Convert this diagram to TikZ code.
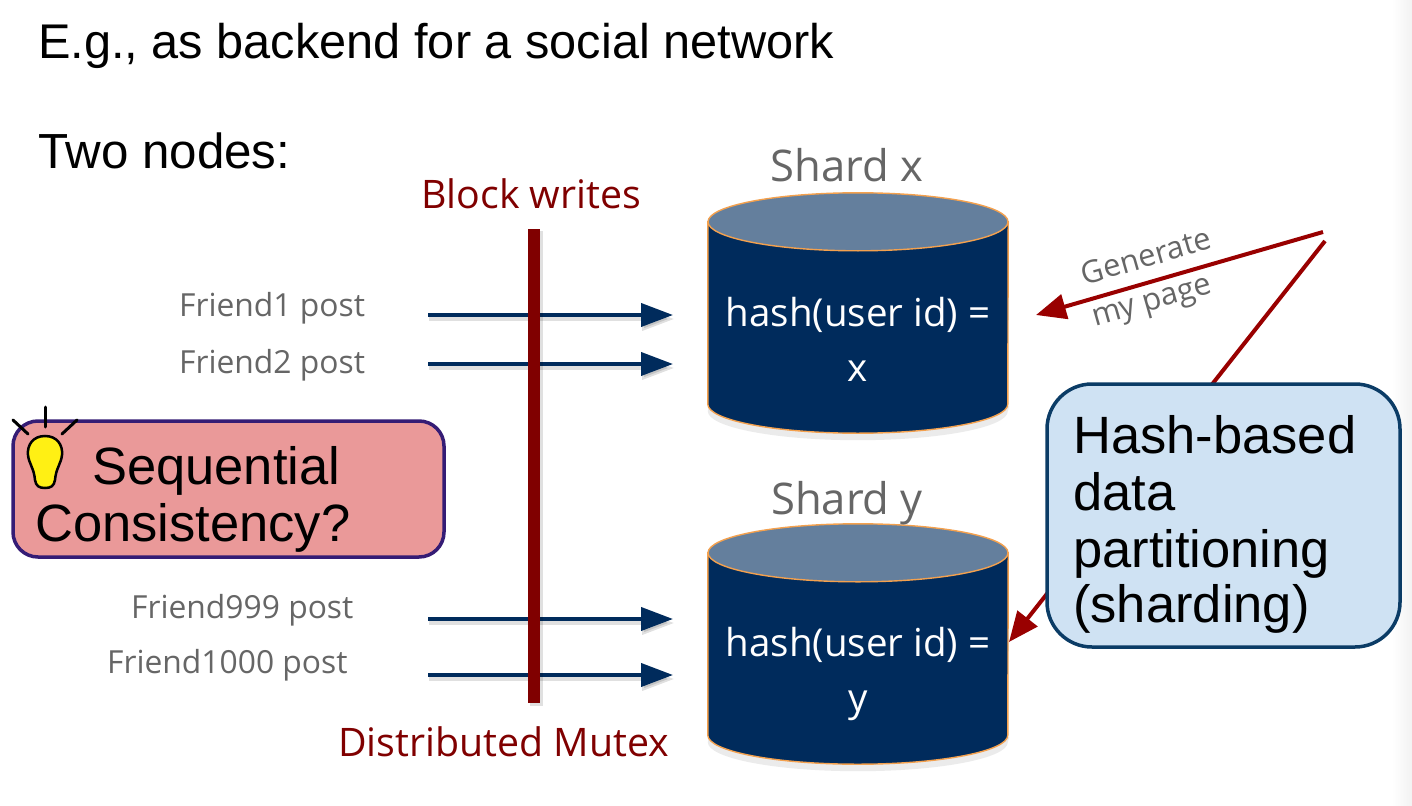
\documentclass[tikz,border=0pt]{standalone}
\usepackage{fontspec}
\setmainfont{Liberation Sans}
\newfontfamily\opensans{Open Sans}
\usetikzlibrary{arrows.meta,calc}
\definecolor{navy}{HTML}{002B5C}
\definecolor{darkred}{HTML}{800000}
\definecolor{arrowred}{HTML}{990000}
\definecolor{grytxt}{HTML}{666666}
\definecolor{cyltop}{HTML}{647F9D}
\definecolor{cyledge}{HTML}{F4A14E}
\definecolor{hashfill}{HTML}{CFE2F3}
\definecolor{hashedge}{HTML}{0B3C66}
\definecolor{seqfill}{HTML}{EA9999}
\definecolor{seqedge}{HTML}{351C75}
\definecolor{bulbfill}{HTML}{FFF014}
\tikzset{
  x=1pt,y=-1pt,
  title/.style={anchor=base west,inner sep=0pt,font=\fontsize{48.7}{48.7}\selectfont},
  twotitle/.style={anchor=base west,inner sep=0pt,font=\fontsize{49.3}{49.3}\selectfont},
  callout/.style={anchor=base west,inner sep=0pt,font=\fontsize{52.5}{52.5}\selectfont},
  friend/.style={anchor=base west,inner sep=0pt,text=grytxt,font=\opensans\fontsize{31.8}{31.8}\selectfont},
  redlabel/.style={anchor=base west,inner sep=0pt,text=darkred,font=\opensans\fontsize{39.3}{39.3}\selectfont},
  shardlabel/.style={anchor=base,inner sep=0pt,text=grytxt,font=\opensans\fontsize{43.6}{43.6}\selectfont},
  shardtext/.style={inner sep=0pt,text=white,align=center,font=\opensans\fontsize{38.5}{55}\selectfont},
  cylspot/.style={minimum width=300pt,minimum height=240pt,inner sep=0pt},
  cylbody/.style={fill=navy,draw=cyledge,line width=1.4pt},
  cyltopface/.style={fill=cyltop,draw=cyledge,line width=1.4pt},
  write/.style={navy,line width=4pt,-{Triangle[length=32pt,width=23pt]}},
  writeshadow/.style={black,opacity=.12,line width=4pt,-{Triangle[length=32pt,width=23pt]}},
  refer/.style={arrowred,line width=4pt,-{Triangle[length=30pt,width=25pt]}},
  gen/.style={inner sep=0pt,text=grytxt,rotate=16,font=\opensans\fontsize{31}{31}\selectfont},
  hashbox/.style={draw=hashedge,fill=hashfill,line width=3.5pt,rounded corners=45pt},
  seqbox/.style={draw=seqedge,fill=seqfill,line width=3.5pt,rounded corners=25pt},
  ray/.style={line width=3pt,line cap=round,draw=black},
  bulb/.style={draw=black,fill=bulbfill,line width=2.5pt},
}
\newcommand{\cyl}[1]{%
  \fill[black,opacity=.08] ($(#1.south west)+(1,-27)$) -- ($(#1.south west)+(0,-22)$)
     arc[start angle=180,end angle=360,x radius=150,y radius=-29] -- ($(#1.south east)+(1,-27)$) -- cycle;
  \path[cylbody] ($(#1.north west)+(0,29)$) -- ($(#1.south west)+(0,-29)$)
     arc[start angle=180,end angle=360,x radius=150,y radius=-29]
     -- ($(#1.north east)+(0,29)$) -- cycle;
  \path[cyltopface] ($(#1.north)+(0,29)$) ellipse[x radius=150,y radius=29];
}
\begin{document}
\begin{tikzpicture}
\useasboundingbox (0,0) rectangle (1412,805);
\fill[white] (0,0) rectangle (1412,805);
\shade[left color=white,right color=black!5] (1392,0) rectangle (1412,805);

\node[title] (ttl) at (38,59) {E.g., as backend for a social network};
\node[twotitle] (two) at (38,168) {Two nodes:};

% cylinders
\node[cylspot] (sx) at (858,313) {};
\node[cylspot] (sy) at (858,644) {};
\cyl{sx}
\cyl{sy}
\node[shardtext] (sxt) at (858,339) {hash(user id) =\\x};
\node[shardtext] (syt) at (858,674) {hash(user id) =\\y};
\node[shardlabel] (sxl) at (847,182) {Shard x};
\node[shardlabel] (syl) at (847,514) {Shard y};

% writes
\coordinate (w1) at (428,315); \coordinate (e1) at (673,315);
\coordinate (w2) at (428,364); \coordinate (e2) at (673,364);
\coordinate (w3) at (428,619); \coordinate (e3) at (673,619);
\coordinate (w4) at (428,675); \coordinate (e4) at (673,675);
\foreach \a/\b in {w1/e1,w2/e2,w3/e3,w4/e4}{
  \draw[writeshadow] ($(\a)+(1,4)$) -- ($(\b)+(1,4)$);
  \draw[write] (\a) -- (\b);
}
\node[friend] (f1) at (179,316) {Friend1 post};
\node[friend] (f2) at (179,373) {Friend2 post};
\node[friend] (f3) at (131,618) {Friend999 post};
\node[friend] (f4) at (107,673) {Friend1000 post};

% mutex
\fill[black,opacity=.12] (530,231) rectangle (543,706);
\fill[darkred] (528,229) rectangle (540,703);
\node[redlabel] (bw) at (421,208) {Block writes};
\node[redlabel] (dm) at (338,756) {Distributed Mutex};

% red arrows
\coordinate (g0) at (1323,232); \coordinate (g1) at (1036,315);
\coordinate (h0) at (1325,241); \coordinate (h1) at (1009,642);
\draw[refer] (g0) -- (g1);
\draw[refer] (h0) -- (h1);
\node[gen] (gn1) at (1146,256) {Generate};
\node[gen] (gn2) at (1153,305) {my page};

% callouts
\draw[hashbox] (1047,384) rectangle (1400,647);
\node[callout] (h1t) at (1073,453) {Hash-based};
\node[callout] (h2t) at (1073,510) {data};
\node[callout] (h3t) at (1073,567) {partitioning};
\node[callout] (h4t) at (1073,622) {(sharding)};

\draw[seqbox] (13,421) rectangle (444,557);
\node[callout] (s1t) at (92,484) {Sequential};
\node[callout] (s2t) at (35,541) {Consistency?};

% bulb
\draw[ray] (45,407) -- (45,427);
\draw[ray] (13,420) -- (28,434);
\draw[ray] (77,420) -- (62,434);
\draw[bulb]
  (45,436) .. controls (33,436) and (27,445) .. (28,455)
  .. controls (29,464) and (34,468) .. (35,480)
  .. controls (36,486) and (39,488) .. (45,488)
  .. controls (51,488) and (54,486) .. (55,480)
  .. controls (56,468) and (61,464) .. (62,455)
  .. controls (63,445) and (57,436) .. (45,436) -- cycle;
\end{tikzpicture}
\end{document}
